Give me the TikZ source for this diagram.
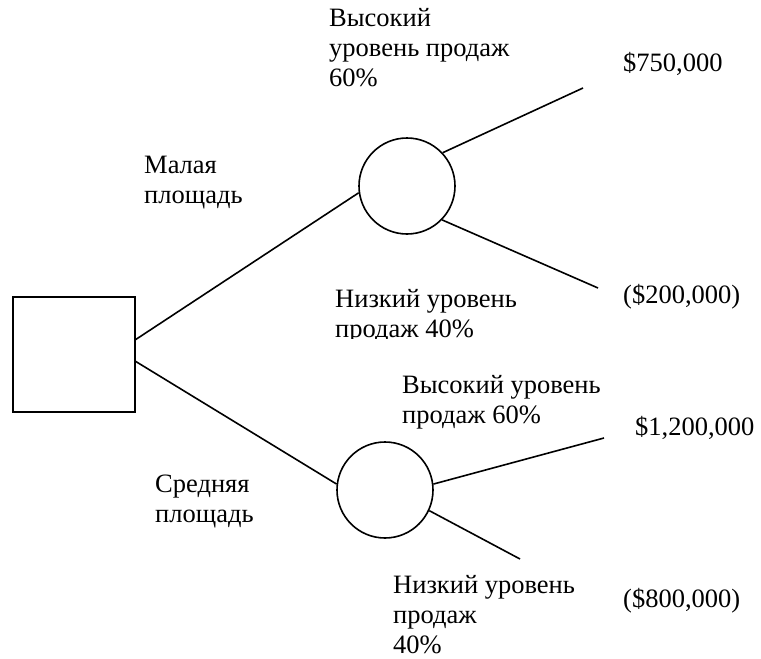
\documentclass[tikz,border=0pt]{standalone}
\usepackage{fontspec}
\setmainfont{Liberation Serif}
\begin{document}
\begin{tikzpicture}[x=1pt,y=-1pt,
  edge/.style={line width=1.6pt},
  chance/.style={circle,draw,line width=1.6pt,minimum size=96pt,inner sep=0pt},
  decision/.style={rectangle,draw,line width=1.6pt,minimum width=122pt,minimum height=115pt,inner sep=0pt},
  lbl/.style={anchor=base west,inner sep=0pt,align=left,font=\fontsize{26.5}{30}\selectfont}]
\useasboundingbox (0,0) rectangle (761,659);
\node[decision] (sq) at (74,354.5) {};
\node[chance] (c1) at (407,186) {};
\node[chance] (c2) at (385,490) {};
\coordinate (s1) at (135,340);
\coordinate (s2) at (135,361);
\coordinate (e1) at (583,88);
\coordinate (e2) at (598,288);
\coordinate (e3) at (604,438);
\coordinate (e4) at (520,559);
\draw[edge] (s1) -- (c1.188);
\draw[edge] (s2) -- (c2.173);
\draw[edge] (c1.43) -- (e1);
\draw[edge] (c1.-44) -- (e2);
\draw[edge] (c2.7) -- (e3);
\draw[edge] (c2.-25) -- (e4);
\node[lbl] (t1) at (144,203) {Малая\\площадь};
\node[lbl] (t2) at (155,522) {Средняя\\площадь};
\node[lbl] (t3) at (329,86) {Высокий\\уровень продаж\\60\%};
\begin{scope}
\clip (300,270) rectangle (600,338);
\node[lbl] (t4) at (335,337) {Низкий уровень\\продаж 40\%};
\end{scope}
\node[lbl] (t5) at (402,423) {Высокий уровень\\продаж 60\%};
\node[lbl] (t6) at (393,653) {Низкий уровень\\продаж\\40\%};
\node[lbl] (v1) at (623,71) {\$750,000};
\node[lbl] (v2) at (623,303) {(\$200,000)};
\node[lbl] (v3) at (635,435) {\$1,200,000};
\node[lbl] (v4) at (623,607) {(\$800,000)};
\end{tikzpicture}
\end{document}
